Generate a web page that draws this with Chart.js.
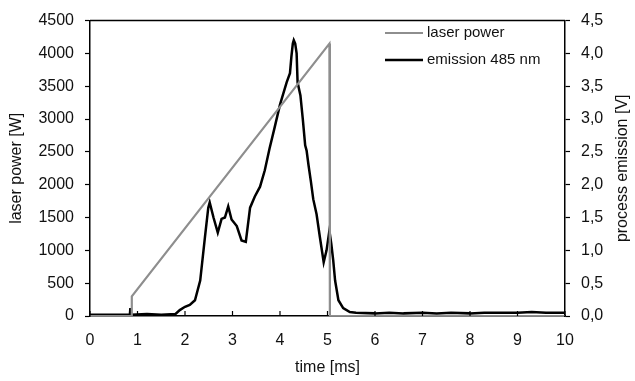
<!DOCTYPE html>
<html>
<head>
<meta charset="utf-8">
<script src="https://cdn.jsdelivr.net/npm/chart.js@4/dist/chart.umd.min.js"></script>
<style>
html,body{margin:0;padding:0;background:#fff;}
canvas{display:block;}
</style>
</head>
<body>
<canvas id="c" width="635" height="381"></canvas>
<script>
// Laser power [W] vs time [ms]
const laserTime  = [0, 0.87, 0.88, 5.04, 5.05, 10];
const laserPower = [0, 0, 300, 4150, 0, 0];

// Process emission 485 nm [V] vs time [ms]
const emisTime = [0, 0.3, 0.6, 0.84, 0.85, 0.86, 1.2, 1.5, 1.8, 1.89, 2.0, 2.1, 2.21, 2.32, 2.42, 2.49, 2.52, 2.6, 2.69, 2.77, 2.84, 2.91, 2.98, 3.09, 3.19, 3.28, 3.37, 3.47, 3.58, 3.68, 3.78, 3.88, 4.0, 4.14, 4.21, 4.24, 4.27, 4.29, 4.32, 4.35, 4.37, 4.43, 4.48, 4.53, 4.56, 4.6, 4.65, 4.7, 4.77, 4.84, 4.92, 4.98, 5.04, 5.08, 5.12, 5.16, 5.23, 5.33, 5.47, 5.6, 6.0, 6.3, 6.6, 7.0, 7.3, 7.6, 8.0, 8.3, 8.6, 9.0, 9.3, 9.6, 10];
const emisVolt = [0.02, 0.02, 0.02, 0.02, 0.12, 0.02, 0.03, 0.02, 0.03, 0.09, 0.14, 0.17, 0.24, 0.54, 1.2, 1.65, 1.73, 1.5, 1.27, 1.48, 1.5, 1.67, 1.47, 1.37, 1.15, 1.13, 1.65, 1.82, 1.97, 2.22, 2.55, 2.85, 3.22, 3.56, 3.7, 3.95, 4.15, 4.2, 4.15, 4.0, 3.56, 3.36, 3.0, 2.6, 2.52, 2.3, 2.05, 1.78, 1.55, 1.2, 0.82, 1.0, 1.3, 1.1, 0.85, 0.54, 0.24, 0.12, 0.06, 0.05, 0.04, 0.05, 0.04, 0.05, 0.04, 0.05, 0.04, 0.05, 0.05, 0.05, 0.06, 0.05, 0.05];

const xTicks = [0,1,2,3,4,5,6,7,8,9,10];

const FONT = "'Liberation Sans', Arial, sans-serif";
const TXT = '#111';
const GREY = '#8e8e8e';

const laserData = laserTime.map((t,i)=>({x:t, y:laserPower[i]}));
const emisData = emisTime.map((t,i)=>({x:t, y:emisVolt[i]}));

const extras = {
  id: 'extras',
  afterDraw(chart) {
    const {ctx, chartArea: a, scales} = chart;
    ctx.save();
    // top frame line
    ctx.strokeStyle = '#000';
    ctx.lineWidth = 1.5;
    ctx.beginPath();
    ctx.moveTo(a.left, a.top);
    ctx.lineTo(a.right, a.top);
    ctx.stroke();
    // inward x ticks
    ctx.lineWidth = 1.2;
    xTicks.forEach(v => {
      const px = scales.x.getPixelForValue(v);
      ctx.beginPath();
      ctx.moveTo(px, a.bottom);
      ctx.lineTo(px, a.bottom - 5);
      ctx.stroke();
    });
    // right axis title, reading bottom-to-top
    ctx.fillStyle = TXT;
    ctx.font = "16px " + FONT;
    ctx.textAlign = 'center';
    ctx.textBaseline = 'middle';
    ctx.save();
    ctx.translate(623, (a.top + a.bottom) / 2);
    ctx.rotate(-Math.PI / 2);
    ctx.fillText('process emission [V]', 0, 0);
    ctx.restore();
    // legend
    const items = [
      {label: chart.data.datasets[0].label, color: GREY, w: 2.2, y: 33},
      {label: chart.data.datasets[1].label, color: '#000', w: 2.5, y: 60}
    ];
    ctx.font = "15px " + FONT;
    ctx.textBaseline = 'middle';
    ctx.textAlign = 'left';
    items.forEach(it => {
      ctx.strokeStyle = it.color;
      ctx.lineWidth = it.w;
      ctx.beginPath();
      ctx.moveTo(385, it.y);
      ctx.lineTo(423, it.y);
      ctx.stroke();
      ctx.fillStyle = TXT;
      ctx.fillText(it.label, 427, it.y);
    });
    ctx.restore();
  }
};

new Chart(document.getElementById('c'), {
  type: 'line',
  data: {
    datasets: [
      {label: 'laser power', data: laserData, yAxisID: 'y', borderColor: GREY, borderWidth: 2.2, pointRadius: 0, tension: 0},
      {label: 'emission 485 nm', data: emisData, yAxisID: 'y2', borderColor: '#000', borderWidth: 2.5, pointRadius: 0, tension: 0}
    ]
  },
  options: {
    responsive: false,
    animation: false,
    layout: {padding: {top: 18, left: 0, right: 0, bottom: 0}},
    plugins: {legend: {display: false}, tooltip: {enabled: false}},
    scales: {
      x: {
        type: 'linear', min: 0, max: 10,
        afterFit: s => { s.height = 65; },
        afterBuildTicks: s => { s.ticks = xTicks.map(v => ({value: v})); },
        grid: {drawOnChartArea: false, drawTicks: false},
        border: {color: '#000', width: 1.5},
        ticks: {color: TXT, font: {family: FONT, size: 16}, padding: 15, maxRotation: 0, callback: v => String(v)},
        title: {display: true, text: 'time [ms]', color: TXT, font: {family: FONT, size: 16}, padding: {top: 0, bottom: 4}}
      },
      y: {
        type: 'linear', position: 'left', min: 0, max: 4500,
        afterFit: s => { s.width = 90; },
        grid: {drawOnChartArea: false, drawTicks: true, tickLength: 5, color: '#000', tickWidth: 1.2},
        border: {color: '#000', width: 1.5},
        ticks: {stepSize: 500, color: TXT, font: {family: FONT, size: 16}, padding: 11, callback: v => String(v)},
        title: {display: true, text: 'laser power [W]', color: TXT, font: {family: FONT, size: 16}, padding: {top: 7, bottom: 0}}
      },
      y2: {
        type: 'linear', position: 'right', min: 0, max: 4.5,
        afterFit: s => { s.width = 70; },
        grid: {drawOnChartArea: false, drawTicks: true, tickLength: 5, color: '#000', tickWidth: 1.2},
        border: {color: '#000', width: 1.5},
        ticks: {stepSize: 0.5, color: TXT, font: {family: FONT, size: 16}, padding: 11,
          callback: v => v.toFixed(1).replace('.', ',')},
        title: {display: false}
      }
    }
  },
  plugins: [extras]
});
</script>
</body>
</html>
